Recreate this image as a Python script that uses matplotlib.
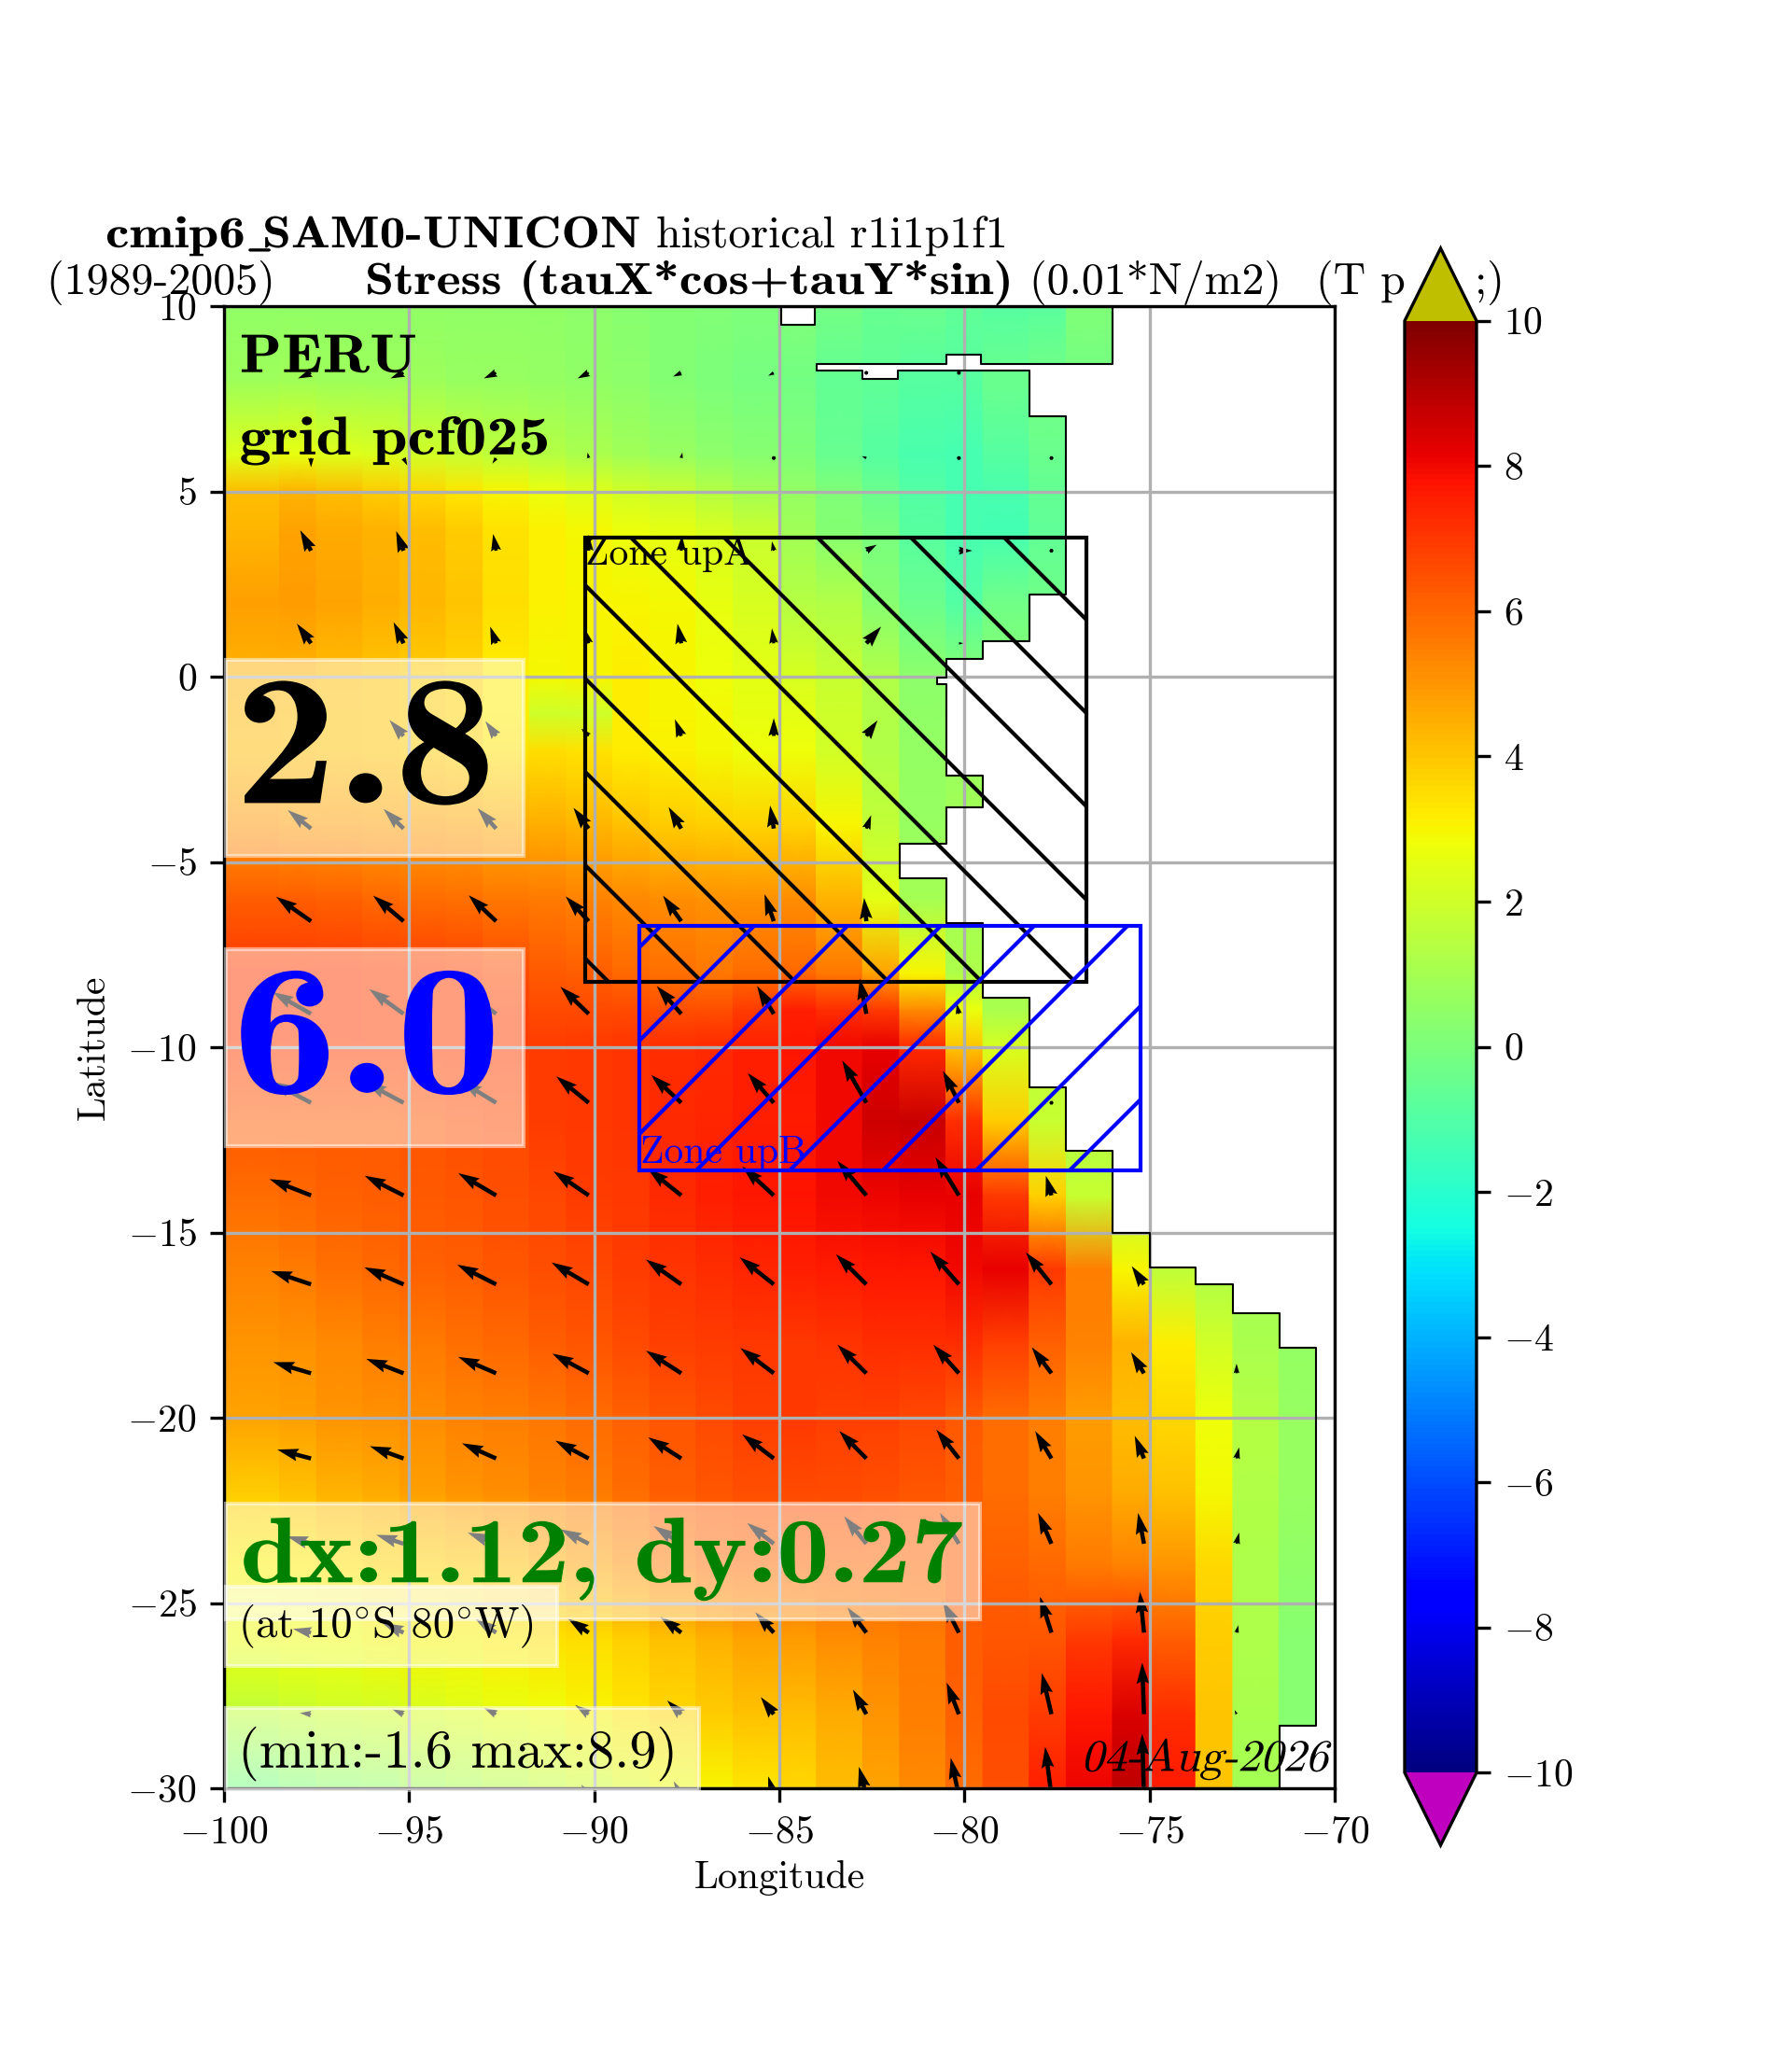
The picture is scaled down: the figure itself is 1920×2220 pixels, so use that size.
import matplotlib
matplotlib.use("Agg")
import matplotlib.patheffects as pe
import matplotlib.pyplot as plt
import numpy as np
from matplotlib.patches import Polygon, Rectangle
from matplotlib.transforms import Affine2D


class GlyphWarp(pe.AbstractPathEffect):
    # widens or slants glyphs, the bundled cm fonts have no bx or ti face
    def __init__(self, stretch=1.0, slant=0.0):
        super().__init__()
        self.warp = Affine2D().scale(stretch, 1).skew_deg(slant, 0)

    def draw_path(self, renderer, gc, tpath, affine, rgbFace=None):
        renderer.draw_path(gc, tpath, self.warp + affine, rgbFace)


plt.rcParams["font.family"] = ["cmr10", "DejaVu Sans"]
plt.rcParams["mathtext.fontset"] = "cm"
plt.rcParams["axes.formatter.use_mathtext"] = True
plt.rcParams["axes.unicode_minus"] = True
plt.rcParams["hatch.linewidth"] = 1.0

# stress field, one row per latitude, one value per column
lon_edges = [-100, -98.5, -97.5, -96.25, -95.25, -94, -93, -91.75, -90.75, -89.5, -88.5, -87.25, -86.25,
             -85, -84, -82.75, -81.75, -80.5, -79.5, -78.25, -77.25, -76, -75, -73.75, -72.75, -71.5, -70.5]
lat_rows = [10, 8, 6, 5, 4, 2, 0, -1, -2, -4, -6, -8, -9, -10, -12, -14, -16, -18, -20, -22, -24, -26, -28, -30]
stress = [
    [.5, .5, .5, .5, .5, .5, .5, .5, .4, .3, .2, .1, 0, .1, -.2, -.5, -.4, -.7, -.9, -.8, .1, .1, .1, .1, .1, .1],
    [.8, .9, .8, .8, .8, .7, .7, .6, .5, .4, .2, 0, -.1, -.2, -.6, -.7, -.9, -.9, -.4, -.2, -.2, .1, .1, .1, .1, .1],
    [2.4, 2.6, 2.4, 2.3, 2.1, 1.8, 1.6, 1.4, 1.1, .9, .7, .4, .3, .1, -.5, -.9, -1.2, -1.3, -.9, -.4, -.4, .1, .1, .1, .1, .1],
    [4.2, 4.4, 4.2, 3.9, 3.6, 3.3, 3, 2.7, 2.4, 2.1, 1.8, 1.4, 1, .6, .1, -.4, -1, -1.3, -1.2, -.6, -.4, .1, .1, .1, .1, .1],
    [4.3, 4.7, 4.6, 4.4, 4.2, 3.9, 3.4, 3.1, 2.9, 2.7, 2.5, 2.2, 1.8, .9, .2, -.1, -.9, -1.3, -1.4, -.7, -.3, .1, .1, .1, .1, .1],
    [4.8, 4.9, 4.7, 4.5, 4.3, 4, 3.5, 3.1, 3, 3, 2.9, 2.6, 2.2, 1.4, 1.3, .3, -.4, -1, -.3, -.3, -.3, .1, .1, .1, .1, .1],
    [4.4, 4.4, 4.2, 4, 3.9, 3.7, 3.2, 2.9, 3, 3.2, 3, 2.8, 2.5, 2.2, 1.8, 1.3, .4, .3, .3, .3, .3, .3, .3, .3, .3, .3],
    [4.3, 4.2, 4.1, 4, 3.9, 3.7, 3.2, 2, 2, 3.2, 3, 2.9, 2.6, 2.5, 2, 1.3, .5, .5, .5, .5, .5, .5, .5, .5, .5, .5],
    [4.2, 4.2, 4.1, 4, 3.9, 3.7, 3.4, 3.5, 3.4, 3.2, 3.1, 2.9, 2.8, 2.8, 2.1, 1.3, .6, .7, .8, .8, .8, .8, .8, .8, .8, .8],
    [5, 4.9, 4.9, 4.8, 4.8, 4.7, 4.6, 4.5, 4.3, 4.1, 3.9, 3.8, 3.7, 3.7, 3, 1.7, .7, 1, .9, .9, .9, .9, .9, .9, .9, .9],
    [6.2, 6.2, 6.1, 6, 5.9, 5.8, 5.7, 5.6, 5.4, 5.3, 5.2, 5.1, 5.1, 5.2, 4.4, 2.5, 1, 1, 1, 1, 1, 1, 1, 1, 1, 1],
    [7, 7, 7, 6.9, 6.9, 6.8, 6.6, 6.3, 6.2, 6, 5.8, 5.7, 5.9, 6, 5.7, 4.7, 3, 1.2, 1, 1, 1, 1, 1, 1, 1, 1],
    [7, 7, 7, 6.9, 6.9, 6.9, 6.8, 6.6, 6.6, 6.6, 6.5, 6.5, 6.9, 7.5, 7.2, 7, 5.3, 2.7, 1.1, 1, 1, 1, 1, 1, 1, 1],
    [6.9, 6.9, 6.9, 6.9, 6.9, 6.9, 6.9, 6.9, 7, 7.1, 7.2, 7.3, 7.5, 7.7, 8, 8.2, 7.3, 4, 2.2, 1.5, 1.5, 1.5, 1.5, 1.5, 1.5, 1.5],
    [6.3, 6.3, 6.3, 6.3, 6.4, 6.5, 6.6, 6.9, 7, 7.1, 7.3, 7.4, 7.5, 7.6, 8, 8.6, 8.7, 7.2, 3.9, 1.8, 1.2, 1.2, 1.2, 1.2, 1.2, 1.2],
    [5.9, 6, 6.1, 6.2, 6.3, 6.4, 6.5, 6.7, 6.9, 7, 7.3, 7.5, 7.7, 7.8, 8, 8.1, 8.2, 8.2, 7, 3.8, 1.8, 1.5, 1.5, 1.5, 1.5, 1.5],
    [5.4, 5.6, 5.8, 6, 6.1, 6.2, 6.4, 6.5, 6.7, 6.9, 7.1, 7.2, 7.4, 7.5, 7.6, 7.7, 7.7, 8, 8.2, 7, 5.5, 3, 1.6, 1.2, 1, 1],
    [5, 5.1, 5.3, 5.5, 5.6, 5.8, 6, 6.2, 6.4, 6.6, 6.8, 6.9, 7, 7, 7.1, 7.2, 7.2, 7.2, 6.8, 6.1, 5.4, 4.4, 3.2, 2.1, 1.1, .6],
    [4.7, 4.8, 5, 5.1, 5.2, 5.4, 5.5, 5.7, 5.9, 6.1, 6.4, 6.6, 6.8, 7, 6.8, 6.8, 6.7, 6.3, 5.9, 5.5, 4.9, 4.2, 3.6, 2.8, 1.4, .7],
    [3.9, 4.1, 4.4, 4.6, 4.8, 5, 5.2, 5.4, 5.6, 5.9, 6.2, 6.4, 6.5, 6.6, 6.6, 6.5, 6.4, 6.2, 5.9, 5.5, 5, 4.6, 4.1, 2.9, 1.3, .7],
    [3.1, 3.2, 3.4, 3.6, 3.7, 3.9, 4.1, 4.4, 4.7, 5.1, 5.5, 5.8, 5.9, 6, 6, 6, 6, 6.2, 6.1, 6, 5.6, 5.4, 5, 3.6, 1.2, .5],
    [2.7, 2.8, 2.8, 2.9, 3, 3, 3.2, 3.4, 3.5, 3.8, 4.1, 4.4, 4.7, 4.9, 5.2, 5.4, 5.6, 6.2, 6.4, 6.4, 7, 7.3, 6.2, 3.9, 1.2, .3],
    [1.6, 1.8, 2, 2.1, 2.2, 2.4, 2.6, 2.8, 3, 3.3, 3.6, 3.9, 4.1, 4.2, 4.6, 5, 5.5, 6.1, 6.6, 6.9, 7.7, 8.4, 7.2, 4, 1.1, .3],
    [-.2, .1, .4, .6, .9, 1.1, 1.4, 1.7, 2, 2.4, 2.7, 3, 3.3, 3.6, 4.2, 4.7, 5.3, 5.9, 6.5, 7.5, 8.1, 8.9, 7.6, 4, 1, .3],
]

# ocean outline of the mask (lon, lat)
coast_lon = [-100, -84.95, -84.95, -84.05, -84.05, -76, -76, -79.55, -79.55, -80.5, -80.5, -84, -84, -82.75, -82.75,
             -81.8, -81.8, -78.25, -78.25, -77.25, -77.25, -78.25, -78.25, -79.5, -79.5, -80.5, -80.5, -80.75, -80.75,
             -80.5, -80.5, -79.5, -79.5, -80.5, -80.5, -81.75, -81.75, -80.5, -80.5, -79.5, -79.5, -78.25, -78.25,
             -77.25, -77.25, -76, -76, -75, -75, -73.75, -73.75, -72.75, -72.75, -71.5, -71.5, -70.5, -70.5, -71.5,
             -71.5, -100, -100]
coast_lat = [10, 10, 9.5, 9.5, 10, 10, 8.43, 8.43, 8.69, 8.69, 8.43, 8.43, 8.26, 8.26, 8.03,
             8.03, 8.26, 8.26, 7.04, 7.04, 2.22, 2.22, .96, .96, .47, .47, -.03, -.03, -.2,
             -.2, -2.68, -2.68, -3.52, -3.52, -4.51, -4.51, -5.44, -5.44, -6.66, -6.66, -8.66, -8.66, -11.08,
             -11.08, -12.79, -12.79, -15, -15, -15.94, -15.94, -16.41, -16.41, -17.17, -17.17, -18.12, -18.12, -28.31, -28.31,
             -30, -30, 10]

# stress arrows, tails on this grid, components in map degrees
arrow_lon = [-97.65, -95.15, -92.65, -90.15, -87.65, -85.15, -82.65, -80.15, -77.65, -75.15, -72.65]
arrow_lat = [8.2, 5.9, 3.4, .9, -1.6, -4.1, -6.6, -9.1, -11.5, -14, -16.4, -18.8, -21.1, -23.4, -25.8, -28, -30.2]
nan = np.nan
arrow_u = [
    [-.35, -.35, -.33, -.3, -.22, -.15, -.03, -.02, nan, nan, nan],
    [0, .1, -.1, -.03, .03, -.1, -.12, -.05, 0, nan, nan],
    [-.29, -.2, -.08, 0, .02, -.05, .28, .36, 0, nan, nan],
    [-.38, -.27, -.16, -.1, -.1, -.05, .4, .12, nan, nan, nan],
    [-.4, -.38, -.29, -.2, -.17, 0, .3, nan, nan, nan, nan],
    [-.63, -.54, -.5, -.41, -.34, -.1, .13, nan, nan, nan, nan],
    [-.94, -.82, -.74, -.62, -.49, -.25, -.06, nan, nan, nan, nan],
    [-1.04, -.93, -.85, -.76, -.66, -.45, -.18, -.06, nan, nan, nan],
    [-1.1, -1.03, -.95, -.87, -.81, -.7, -.65, -.43, 0, nan, nan],
    [-1.12, -1.05, -1.02, -.95, -.9, -.85, -.78, -.63, -.15, nan, nan],
    [-1.08, -1.06, -1.05, -1, -.95, -.92, -.82, -.77, -.69, -.33, nan],
    [-1.02, -1.01, -1.02, -.98, -.95, -.9, -.78, -.69, -.53, -.35, 0],
    [-.91, -.91, -.92, -.9, -.89, -.85, -.73, -.61, -.44, -.25, .07],
    [-.65, -.74, -.77, -.76, -.75, -.72, -.6, -.51, -.36, -.16, .07],
    [-.49, -.57, -.56, -.56, -.57, -.5, -.51, -.43, -.31, -.11, .05],
    [-.3, -.3, -.33, -.36, -.38, -.35, -.36, -.33, -.26, -.05, -.05],
    [-.2, -.2, -.2, -.2, -.2, -.15, -.2, -.22, -.17, -.05, 0],
]
arrow_v = [
    [-.15, -.15, -.15, -.15, -.1, -.08, .02, .02, nan, nan, nan],
    [-.25, -.2, -.15, .15, .15, .05, .05, .1, 0, nan, nan],
    [.55, .53, .45, .43, .41, .25, .16, 0, 0, nan, nan],
    [.53, .57, .45, .38, .53, .4, .45, 0, nan, nan, nan],
    [.4, .43, .4, .2, .45, .48, .42, nan, nan, nan, nan],
    [.5, .53, .55, .56, .58, .62, .36, nan, nan, nan, nan],
    [.66, .69, .7, .67, .69, .73, .63, nan, nan, nan, nan],
    [.59, .67, .63, .73, .75, .75, .95, .28, nan, nan, nan],
    [.58, .55, .58, .71, .75, .8, 1.14, .86, 0, nan, nan],
    [.44, .53, .6, .65, .72, .78, .93, 1.03, .53, nan, nan],
    [.36, .46, .53, .59, .67, .73, .81, .88, .86, .49, nan],
    [.3, .39, .44, .53, .61, .68, .77, .77, .7, .57, .26],
    [.24, .33, .41, .48, .57, .65, .74, .78, .74, .61, .3],
    [.2, .24, .3, .39, .48, .56, .74, .83, .83, .83, .3],
    [.1, .26, .37, .38, .43, .55, .68, .84, .97, 1.1, .2],
    [.03, .13, .17, .24, .37, .46, .66, .85, 1.11, 1.39, .11],
    [.1, .1, .1, .3, .39, .52, .78, 1.02, 1.32, 1.67, .25],
]

cbar_ticks = [-10, -8, -6, -4, -2, 0, 2, 4, 6, 8, 10]
zone_a = (-90.25, -8.23, 13.54, 11.99)
zone_b = (-88.79, -13.33, 13.54, 6.6)

W, H = 1920, 2220
fig = plt.figure(figsize=(6.4, 7.4), dpi=300)
ax = fig.add_axes([240 / W, 1 - 1916 / H, (1430 - 240) / W, (1916 - 328) / H])

# two x positions per column so the stripes stay sharp, latitude is shaded
lon_left = np.array(lon_edges[:-1])
lon_right = np.array(lon_edges[1:])
x_pairs = np.column_stack([lon_left, lon_right]).ravel()
z_pairs = np.repeat(np.array(stress), 2, axis=1)
xx, yy = np.meshgrid(x_pairs, lat_rows)

cmap = plt.get_cmap("jet").copy()
cmap.set_over((0.75, 0.75, 0))
cmap.set_under((0.75, 0, 0.75))
mesh = ax.pcolormesh(xx, yy, z_pairs, cmap=cmap, vmin=-10, vmax=10, shading="gouraud")
ocean = Polygon(np.column_stack([coast_lon, coast_lat]), closed=True, transform=ax.transData)
mesh.set_clip_path(ocean)
ax.plot(coast_lon, coast_lat, color="k", lw=0.5, zorder=2)

ax_u, ax_v = np.meshgrid(arrow_lon, arrow_lat)
ax.quiver(ax_u, ax_v, np.array(arrow_u), np.array(arrow_v), angles="xy", scale_units="xy", scale=1,
          width=0.0038, color="k", zorder=1)

ax.set_xlim(-100, -70)
ax.set_ylim(-30, 10)
ax.set_xticks(np.arange(-100, -69, 5))
ax.set_yticks(np.arange(-30, 11, 5))
ax.grid(True)
ax.set_xlabel("Longitude", labelpad=2.5)
ax.set_ylabel("Latitude")

ax.add_patch(Rectangle(zone_a[:2], zone_a[2], zone_a[3], fill=False, edgecolor="k", hatch="\\", lw=1, zorder=2.2))
ax.add_patch(Rectangle(zone_b[:2], zone_b[2], zone_b[3], fill=False, edgecolor="b", hatch="/", lw=1, zorder=2.3))
ax.text(-90.24, 3.03, "Zone upA", fontsize=10, color="k", va="baseline", zorder=3)
ax.text(-88.76, -13.12, "Zone upB", fontsize=10, color="b", va="baseline", zorder=3)


def note(text, lon, lat, box, size, color="k", family="cmb10", stretch=1.0):
    # text over a half white box, box is (right lon, top lat, bottom lat)
    ax.add_patch(Rectangle((-99.96, box[2]), box[0] + 99.96, box[1] - box[2], facecolor="w", edgecolor="w",
                           alpha=0.5, lw=1, zorder=4, clip_on=False))
    ax.text(lon, lat, text, fontsize=size, color=color, family=family, va="baseline", zorder=5,
            path_effects=[GlyphWarp(stretch)])


ax.text(-99.58, 8.22, "PERU", fontsize=14, family="cmb10", va="baseline", zorder=5, path_effects=[GlyphWarp(1.14)])
ax.text(-99.58, 6.0, "grid pcf025", fontsize=14, family="cmb10", va="baseline", zorder=5, path_effects=[GlyphWarp(1.165)])
note("2.8", -99.72, -3.41, (-91.9, 0.46, -4.83), 48, stretch=1.1)
note("6.0", -99.78, -11.23, (-91.9, -7.36, -12.68), 48, color="b", stretch=1.13)
note("dx:1.12, dy:0.27", -99.56, -24.44, (-79.59, -22.31, -25.43), 24, color="g", stretch=1.126)
note("(at 10$^{\\circ}$S 80$^{\\circ}$W)", -99.6, -25.92, (-91.0, -24.56, -26.7), 11.2, family="cmr10")
note("(min:-1.6 max:8.9)", -99.62, -29.44, (-87.16, -27.83, -30.05), 14, family="cmr10")
ax.text(-76.85, -29.53, "04-Aug-2026", fontsize=11.6, va="baseline", zorder=5, path_effects=[GlyphWarp(1.0, 14)])

# title pieces, placed in figure pixels so the colorbar tip can cover them
title_bits = [
    (113, 265, "cmip6", "cmb10", 1.2),
    (263, 265, r"$\_$", "cmr10", 1.2),
    (281, 265, "SAM0-UNICON", "cmb10", 1.16),
    (703, 265, "historical r1i1p1f1", "cmr10", 1.0),
    (50, 315, "(1989-2005)", "cmr10", 1.0),
    (391, 315, "Stress (tauX*cos+tauY*sin)", "cmb10", 1.165),
    (1103, 315, "(0.01*N/m2)", "cmr10", 1.0),
    (1410, 315, "(T p", "cmr10", 1.0),
    (1580, 315, ";)", "cmr10", 1.0),
]
for px, py, text, fam, wide in title_bits:
    ax.text(px / W, 1 - py / H, text, transform=fig.transFigure, family=fam, fontsize=11.5, va="baseline",
            clip_on=False, path_effects=[GlyphWarp(wide)])

cax = fig.add_axes([1505 / W, 1 - 1977 / H, 77 / W, (1977 - 266) / H])
sm = plt.cm.ScalarMappable(norm=plt.Normalize(-10, 10), cmap=cmap)
fig.colorbar(sm, cax=cax, extend="both", ticks=cbar_ticks)

fig.savefig("out.png", dpi=300)
